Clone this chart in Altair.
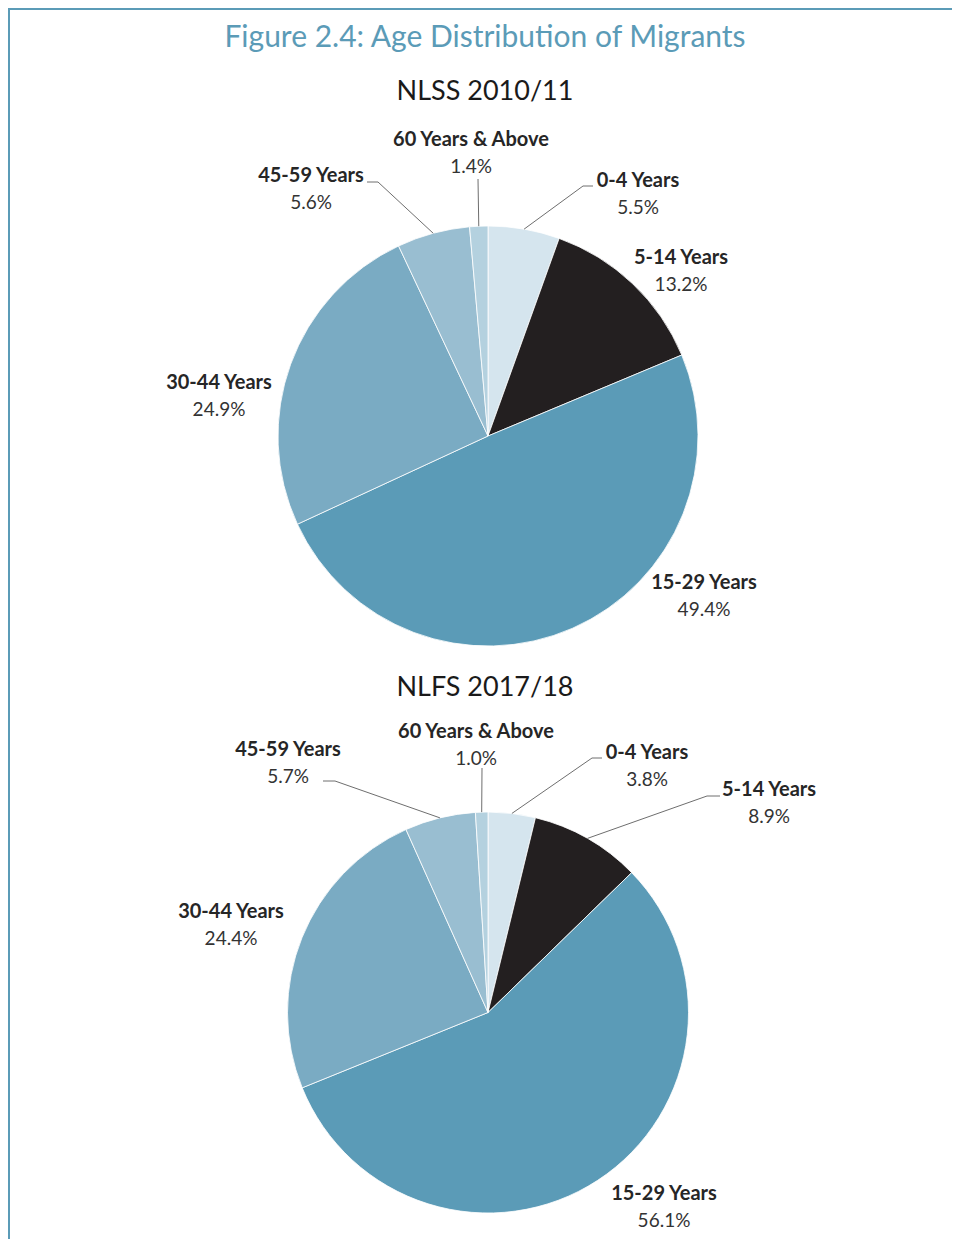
import math
import altair as alt
import pandas as pd

# ---------------- data ----------------
groups = ["0-4 Years", "5-14 Years", "15-29 Years", "30-44 Years", "45-59 Years", "60 Years & Above"]
nlss_2010 = [5.5, 13.2, 49.4, 24.9, 5.6, 1.4]
nlfs_2017 = [3.8, 8.9, 56.1, 24.4, 5.7, 1.0]
surveys = ["NLSS 2010/11", "NLFS 2017/18"]
fig_title = "Figure 2.4: Age Distribution of Migrants"

colors = ["#D5E5EE", "#231F20", "#5B9BB7", "#7AABC3", "#99BED1", "#B4D1DF"]

# ---------------- layout (page pixels) ----------------
W, H = 944, 1231
OFF = 8
FONT = "Lato"

PIES = [
    dict(
        values=nlss_2010, cx=488, cy=436, r=210, sub_y=100,
        labels={
            "0-4 Years": (638, 187), "5-14 Years": (681, 264), "15-29 Years": (704, 589),
            "30-44 Years": (219, 389), "45-59 Years": (311, 182), "60 Years & Above": (471, 146),
        },
        leaders={
            "0-4 Years": [(593, 186), (583, 186)],
            "45-59 Years": [(367, 182), (378, 182)],
            "60 Years & Above": [(478, 179), (478, 179)],
        },
    ),
    dict(
        values=nlfs_2017, cx=488, cy=1012.5, r=200.5, sub_y=696,
        labels={
            "0-4 Years": (647, 759), "5-14 Years": (769, 796), "15-29 Years": (664, 1200),
            "30-44 Years": (231, 918), "45-59 Years": (288, 756), "60 Years & Above": (476, 738),
        },
        leaders={
            "0-4 Years": [(602, 758), (592, 758)],
            "5-14 Years": [(720, 796), (707, 796)],
            "45-59 Years": [(323, 781), (335, 781)],
            "60 Years & Above": [(482, 768), (482, 768)],
        },
    ),
]

layers = []
for P in PIES:
    vals = P["values"]
    total = sum(vals)
    df = pd.DataFrame({"group": groups, "pct": vals, "idx": list(range(len(groups)))})
    df["cum"] = df["pct"].cumsum()
    df["mid"] = (df["cum"] - df["pct"] / 2) / total * 2 * math.pi

    arc = alt.Chart(df).mark_arc(outerRadius=P["r"], stroke="white", strokeWidth=0.8).encode(
        theta=alt.Theta("pct:Q", stack=True),
        color=alt.Color("group:N", scale=alt.Scale(domain=groups, range=colors), legend=None),
        order=alt.Order("idx:Q"),
        x=alt.value(P["cx"] - OFF),
        y=alt.value(P["cy"] - OFF),
    )
    layers.append(arc)

    # labels
    lrows = []
    for g, v in zip(groups, vals):
        lx, ly = P["labels"][g]
        lrows.append(dict(name=g, pct_text=f"{v:.1f}%", x=lx - OFF, yn=ly - OFF, yp=ly - OFF + 26.5))
    ldf = pd.DataFrame(lrows)
    layers.append(
        alt.Chart(ldf).mark_text(font=FONT, fontSize=20, fontWeight="bold", color="#262626",
                                 baseline="alphabetic", align="center").encode(
            x=alt.X("x:Q", scale=None, axis=None), y=alt.Y("yn:Q", scale=None, axis=None), text="name:N")
    )
    layers.append(
        alt.Chart(ldf).mark_text(font=FONT, fontSize=19, color="#333333",
                                 baseline="alphabetic", align="center").encode(
            x=alt.X("x:Q", scale=None, axis=None), y=alt.Y("yp:Q", scale=None, axis=None), text="pct_text:N")
    )

    # leader lines: label end -> elbow -> slice edge at mid angle
    segs = []
    for g, (start, elbow) in P["leaders"].items():
        a = float(df.loc[df["group"] == g, "mid"].iloc[0])
        ex = P["cx"] + P["r"] * math.sin(a)
        ey = P["cy"] - P["r"] * math.cos(a)
        if start != elbow:
            segs.append(dict(x=start[0] - OFF, y=start[1] - OFF, x2=elbow[0] - OFF, y2=elbow[1] - OFF))
        segs.append(dict(x=elbow[0] - OFF, y=elbow[1] - OFF, x2=ex - OFF, y2=ey - OFF))
    sdf = pd.DataFrame(segs)
    layers.append(
        alt.Chart(sdf).mark_rule(color="#6E6E6E", strokeWidth=1).encode(
            x=alt.X("x:Q", scale=None, axis=None), y=alt.Y("y:Q", scale=None, axis=None),
            x2="x2:Q", y2="y2:Q")
    )

# titles
tdf = pd.DataFrame({"text": [fig_title], "x": [485 - OFF], "y": [47 - OFF]})
layers.append(
    alt.Chart(tdf).mark_text(font=FONT, fontSize=30, color="#5B9BB7", baseline="alphabetic", align="center").encode(
        x=alt.X("x:Q", scale=None, axis=None), y=alt.Y("y:Q", scale=None, axis=None), text="text:N")
)
sdf2 = pd.DataFrame({"text": surveys, "x": [485 - OFF] * 2, "y": [P["sub_y"] - OFF for P in PIES]})
layers.append(
    alt.Chart(sdf2).mark_text(font=FONT, fontSize=27, color="#1A1A1A", baseline="alphabetic", align="center").encode(
        x=alt.X("x:Q", scale=None, axis=None), y=alt.Y("y:Q", scale=None, axis=None), text="text:N")
)

# frame (left and top edges)
bdf = pd.DataFrame({"x": [1, 0], "y": [0, 1], "x2": [1, W], "y2": [H, 1]})
layers.append(
    alt.Chart(bdf).mark_rule(color="#5B9BB7", strokeWidth=2).encode(
        x=alt.X("x:Q", scale=None, axis=None), y=alt.Y("y:Q", scale=None, axis=None),
        x2="x2:Q", y2="y2:Q")
)

chart = alt.layer(*layers).resolve_scale(theta="independent").properties(
    width=W, height=H, autosize=alt.AutoSizeParams(type="none"), padding=0,
    background="white",
).configure_view(stroke=None)

chart.save("out.html", embed_options={"renderer": "svg", "actions": False})
